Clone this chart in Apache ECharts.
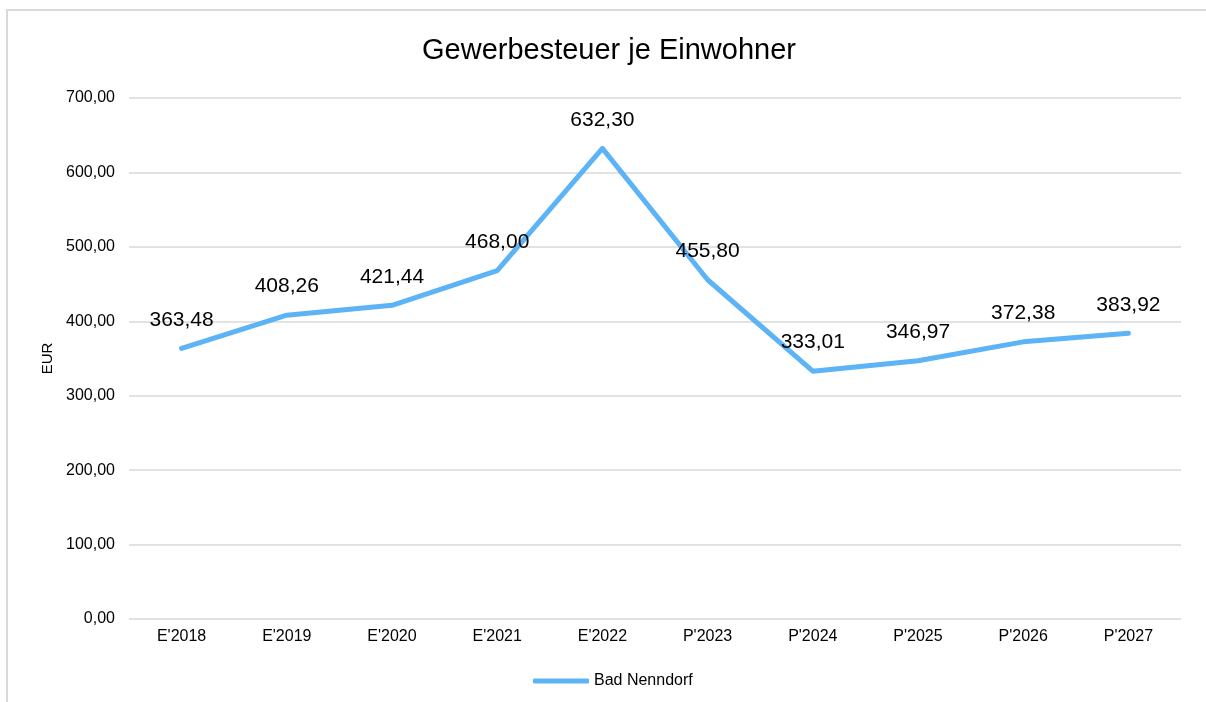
<!DOCTYPE html>
<html lang="de">
<head>
  <meta charset="UTF-8">
  <title>Gewerbesteuer je Einwohner</title>
  <style>
    body { margin: 0; background: #fff; }
    #rahmen {
      position: absolute; left: 6px; top: 9px; width: 1220px; height: 720px;
      border: 2px solid #d9d9d9; box-sizing: border-box;
    }
    #chart { position: absolute; left: 0; top: 0; width: 1206px; height: 702px; }
  </style>
  <script src="https://cdn.jsdelivr.net/npm/echarts@6/dist/echarts.min.js"></script>
</head>
<body>
<div id="rahmen"></div>
<div id="chart"></div>
<script>
  // Daten
  var jahre = ["E'2018", "E'2019", "E'2020", "E'2021", "E'2022", "P'2023", "P'2024", "P'2025", "P'2026", "P'2027"];
  var badNenndorf = [363.48, 408.26, 421.44, 468.00, 632.30, 455.80, 333.01, 346.97, 372.38, 383.92];

  function deZahl(v) {
    return v.toFixed(2).replace('.', ',');
  }

  var myChart = echarts.init(document.getElementById('chart'));
  var option = {
    animation: false,
    textStyle: { fontFamily: 'Liberation Sans, Arial, sans-serif' },
    title: {
      text: 'Gewerbesteuer je Einwohner',
      left: 417,
      top: 31,
      textStyle: { fontSize: 29, fontWeight: 'normal', color: '#000' }
    },
    legend: {
      bottom: 8,
      left: 528,
      itemWidth: 56,
      itemHeight: 5,
      itemGap: 10,
      icon: 'roundRect',
      textStyle: { fontSize: 16, color: '#000' },
      data: ['Bad Nenndorf']
    },
    grid: { left: 129, right: 25, top: 98, bottom: 83 },
    xAxis: {
      type: 'category',
      data: jahre,
      boundaryGap: true,
      axisLine: { show: false },
      axisTick: { show: false },
      axisLabel: { fontSize: 16, color: '#000', margin: 10 }
    },
    yAxis: {
      type: 'value',
      min: 0,
      max: 700,
      interval: 100,
      name: 'EUR',
      nameLocation: 'middle',
      nameRotate: 90,
      nameGap: 72,
      nameTextStyle: { fontSize: 15, color: '#000' },
      axisLine: { show: false },
      axisTick: { show: false },
      axisLabel: { fontSize: 16, color: '#000', margin: 14, formatter: deZahl },
      splitLine: { lineStyle: { color: '#d9d9d9', width: 1.5 } }
    },
    series: [{
      name: 'Bad Nenndorf',
      type: 'line',
      data: badNenndorf,
      symbol: 'circle',
      symbolSize: 0,
      showSymbol: true,
      lineStyle: { color: '#5cb3f5', width: 5, cap: 'round', join: 'round' },
      itemStyle: { color: '#5cb3f5' },
      label: {
        show: true,
        position: 'top',
        distance: 18,
        fontSize: 21,
        color: '#000',
        formatter: function (p) { return deZahl(p.value); }
      }
    }]
  };
  myChart.setOption(option);
</script>
</body>
</html>
